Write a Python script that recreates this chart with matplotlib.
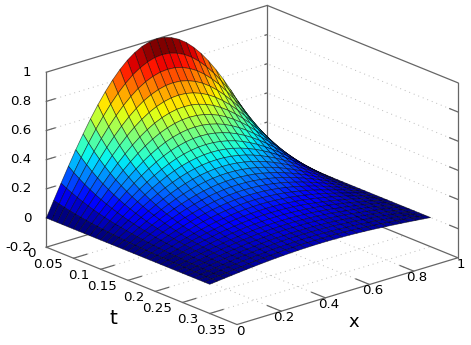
import numpy as np
import matplotlib
matplotlib.use("Agg")
import matplotlib.pyplot as plt
from mpl_toolkits.mplot3d import proj3d


# surface: height along t=0 and fall-off along x=0.5
x_grid = [i / 30 for i in range(31)]
t_grid = [i / 100 for i in range(31)]
height_along_x = [0, .105, .208, .309, .407, .5, .588, .669, .743, .809, .866,
                  .914, .951, .978, .995, 1, .995, .978, .951, .914, .866,
                  .809, .743, .669, .588, .5, .407, .309, .208, .105, 0]
falloff_along_t = [1, .906, .821, .744, .674, .610, .553, .501, .454, .411,
                   .373, .338, .306, .277, .251, .228, .206, .187, .169, .153,
                   .139, .126, .114, .103, .094, .085, .077, .070, .063, .057,
                   .052]

t_ticks = [0, .05, .1, .15, .2, .25, .3, .35]
t_labels = ["0", "0.05", "0.1", "0.15", "0.2", "0.25", "0.3", "0.35"]
x_ticks = [0, .2, .4, .6, .8, 1]
x_labels = ["0", "0.2", "0.4", "0.6", "0.8", "1"]
z_ticks = [-.2, 0, .2, .4, .6, .8, 1]
z_labels = ["-0.2", "0", "0.2", "0.4", "0.6", "0.8", "1"]

t_max, x_max, z_min, z_max = .35, 1, -.2, 1
frame = "#666666"
grid = "#bbbbbb"

fig = plt.figure(figsize=(4.71, 3.45), dpi=100)
# axes box larger than the figure so that nothing gets clipped
ax = fig.add_axes([-56 / 471, -128.1 / 345, 600 / 471, 600 / 345],
                  projection="3d", proj_type="ortho", computed_zorder=False)
ax.set_box_aspect((1, 1, .64), zoom=.733)
ax.view_init(elev=20.5, azim=-40.8)
ax.set_xlim(0, t_max, view_margin=0)
ax.set_ylim(0, x_max, view_margin=0)
ax.set_zlim(z_min, z_max, view_margin=0)
ax.set_axis_off()


def frame_line(ts, xs, zs):
    ax.plot(ts, xs, zs, color=frame, lw=.9, zorder=1)


def grid_line(ts, xs, zs):
    ax.plot(ts, xs, zs, color=grid, lw=.7, ls=(0, (1, 4)), zorder=1)


def label_at(t, x, z, text, dx, dy, ha, size=9.6):
    # plain 2d text next to a projected point, offset in pixels
    px, py, _ = proj3d.proj_transform(t, x, z, ax.get_proj())
    ax.annotate(text, (px, py), xytext=(dx, dy), textcoords="offset pixels",
                fontsize=size, ha=ha, va="center", zorder=3)


# floor grid
for t in t_ticks[1:-1]:
    grid_line([t, t], [0, x_max], [z_min, z_min])
for x in x_ticks[1:-1]:
    grid_line([0, t_max], [x, x], [z_min, z_min])

# back wall grid
for z in z_ticks[1:-1]:
    grid_line([0, 0, t_max], [0, x_max, x_max], [z, z, z])

# box
frame_line([0, t_max, t_max, 0, 0], [0, 0, x_max, x_max, 0], [z_min] * 5)
frame_line([0, 0, t_max], [0, x_max, x_max], [z_max] * 3)
frame_line([0, 0], [0, 0], [z_min, z_max])
frame_line([0, 0], [x_max, x_max], [z_min, z_max])
frame_line([t_max, t_max], [x_max, x_max], [z_min, z_max])

# tick marks
for t in t_ticks[1:-1]:
    frame_line([t, t], [0, .06], [z_min, z_min])
for x in x_ticks[1:-1]:
    frame_line([t_max, t_max - .025], [x, x], [z_min, z_min])
for z in z_ticks[1:-1]:
    frame_line([0, 0], [0, .04], [z, z])
    frame_line([t_max, t_max - .015], [x_max, x_max], [z, z])
    frame_line([0, 0], [x_max, x_max - .01], [z, z])

# surface, each cell takes the colour of its first corner
T, X = np.meshgrid(t_grid, x_grid)
Z = np.outer(height_along_x, falloff_along_t)
jet = plt.get_cmap("jet", 64)
surf = ax.plot_surface(T, X, Z, rstride=1, cstride=1, facecolors=jet(Z),
                       shade=False, linewidth=.5, zorder=2)
surf.set_edgecolor((0, 0, 0, .6))

# tick labels
for t, label in zip(t_ticks, t_labels):
    label_at(t, 0, z_min, label, -11, -6, "right")
for x, label in zip(x_ticks, x_labels):
    label_at(t_max, x, z_min, label, 3, -6.5, "center")
for z, label in zip(z_ticks, z_labels):
    label_at(0, 0, z, label, -15, 0, "right")

label_at(t_max / 2, 0, z_min, "t", -28, -33, "center", 14.5)
label_at(t_max, x_max / 2, z_min, "x", 6.5, -30.5, "center", 13)

fig.savefig("out.png", dpi=100)
